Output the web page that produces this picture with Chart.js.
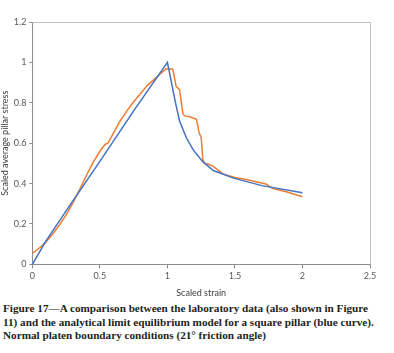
<!DOCTYPE html>
<html>
<head>
<meta charset="utf-8">
<script src="https://cdn.jsdelivr.net/npm/chart.js@4.4.1/dist/chart.umd.min.js"></script>
<style>
    body { margin: 0; background: #fff; width: 394px; height: 353px; overflow: hidden; }
    .chart { position: relative; width: 394px; height: 298px; }
    .caption {
        font-family: "Liberation Serif", serif;
        font-weight: bold;
        font-size: 11.2px;
        line-height: 13.5px;
        color: #231f20;
        margin: 4px 0 0 3px;
        white-space: nowrap;
    }
</style>
</head>
<body>
<div class="chart"><canvas id="myChart"></canvas></div>
<div class="caption">Figure 17—A comparison between the laboratory data (also shown in Figure<br>11) and the analytical limit equilibrium model for a square pillar (blue curve).<br>Normal platen boundary conditions (21° friction angle)</div>
<script>
// laboratory data (orange)
let labStrain = [0, 0.05, 0.1, 0.15, 0.2, 0.25, 0.3, 0.35, 0.4, 0.45, 0.5, 0.54, 0.56, 0.6, 0.65, 0.7,
    0.75, 0.8, 0.85, 0.9, 0.95, 0.99, 1.04, 1.065, 1.09, 1.115, 1.13, 1.17, 1.215, 1.235, 1.25,
    1.262, 1.275, 1.3, 1.34, 1.41, 1.5, 1.585, 1.68, 1.73, 1.78, 1.88, 2.0]
let labStress = [0.055, 0.08, 0.11, 0.15, 0.195, 0.245, 0.305, 0.37, 0.44, 0.505, 0.56, 0.595, 0.6, 0.65, 0.71, 0.76,
    0.805, 0.845, 0.885, 0.915, 0.945, 0.968, 0.966, 0.88, 0.865, 0.745, 0.735, 0.73, 0.718, 0.65, 0.63,
    0.52, 0.5, 0.497, 0.485, 0.448, 0.43, 0.42, 0.405, 0.398, 0.375, 0.36, 0.335]

// analytical limit equilibrium model (blue)
let modelStrain = [0, 0.1, 0.25, 0.5, 0.75, 1, 1.03, 1.06, 1.09, 1.14, 1.19, 1.26, 1.34, 1.49, 1.7, 2.0]
let modelStress = [0, 0.115, 0.265, 0.51, 0.76, 1, 0.9, 0.8, 0.71, 0.627, 0.568, 0.51, 0.465, 0.427, 0.39, 0.355]

let xTicks = [0, 0.5, 1, 1.5, 2, 2.5]
let yTicks = [0, 0.2, 0.4, 0.6, 0.8, 1, 1.2]

function toPoints(xs, ys) {
    return xs.map((x, i) => ({x: x, y: ys[i]}))
}

// top and right edges of the plot frame
const frame = {
    id: 'frame',
    afterDraw(chart) {
        let a = chart.chartArea
        let ctx = chart.ctx
        ctx.save()
        ctx.strokeStyle = '#bfbfbf'
        ctx.lineWidth = 1
        ctx.beginPath()
        ctx.moveTo(a.left, a.top + 0.5)
        ctx.lineTo(a.right + 0.5, a.top + 0.5)
        ctx.lineTo(a.right + 0.5, a.bottom)
        ctx.stroke()
        ctx.restore()
    }
}

let font = {family: 'Lato, "Open Sans", sans-serif', size: 9}

new Chart(document.getElementById('myChart').getContext('2d'), {
    type: 'scatter',
    data: {
        datasets: [{
            label: 'Model',
            data: toPoints(modelStrain, modelStress),
            showLine: true,
            borderColor: '#4472c4',
            borderWidth: 1.5,
            pointRadius: 0,
            tension: 0
        }, {
            label: 'Laboratory',
            data: toPoints(labStrain, labStress),
            showLine: true,
            borderColor: '#ed7d31',
            borderWidth: 1.5,
            pointRadius: 0,
            tension: 0
        }]
    },
    options: {
        animation: false,
        responsive: true,
        maintainAspectRatio: false,
        layout: {padding: {top: 22, right: 24, left: 0, bottom: 0}},
        plugins: {legend: {display: false}, tooltip: {enabled: false}},
        scales: {
            x: {
                type: 'linear', min: 0, max: 2.5,
                afterBuildTicks: axis => { axis.ticks = xTicks.map(v => ({value: v})) },
                ticks: {font: font, color: '#595959', padding: 2,
                    callback: v => String(v)},
                grid: {drawOnChartArea: false, tickLength: 4, color: '#8c8c8c'},
                border: {color: '#8c8c8c'},
                title: {display: true, text: 'Scaled strain', font: font, color: '#404040', padding: {top: 4, bottom: 0}}
            },
            y: {
                min: 0, max: 1.2,
                afterBuildTicks: axis => { axis.ticks = yTicks.map(v => ({value: v})) },
                ticks: {font: font, color: '#595959', padding: 3,
                    callback: v => String(v)},
                grid: {drawOnChartArea: false, tickLength: 3, color: '#8c8c8c'},
                border: {color: '#8c8c8c'},
                title: {display: true, text: 'Scaled average pillar stress', font: font, color: '#404040', padding: {top: 0, bottom: 0}}
            }
        }
    },
    plugins: [frame]
})
</script>
</body>
</html>
